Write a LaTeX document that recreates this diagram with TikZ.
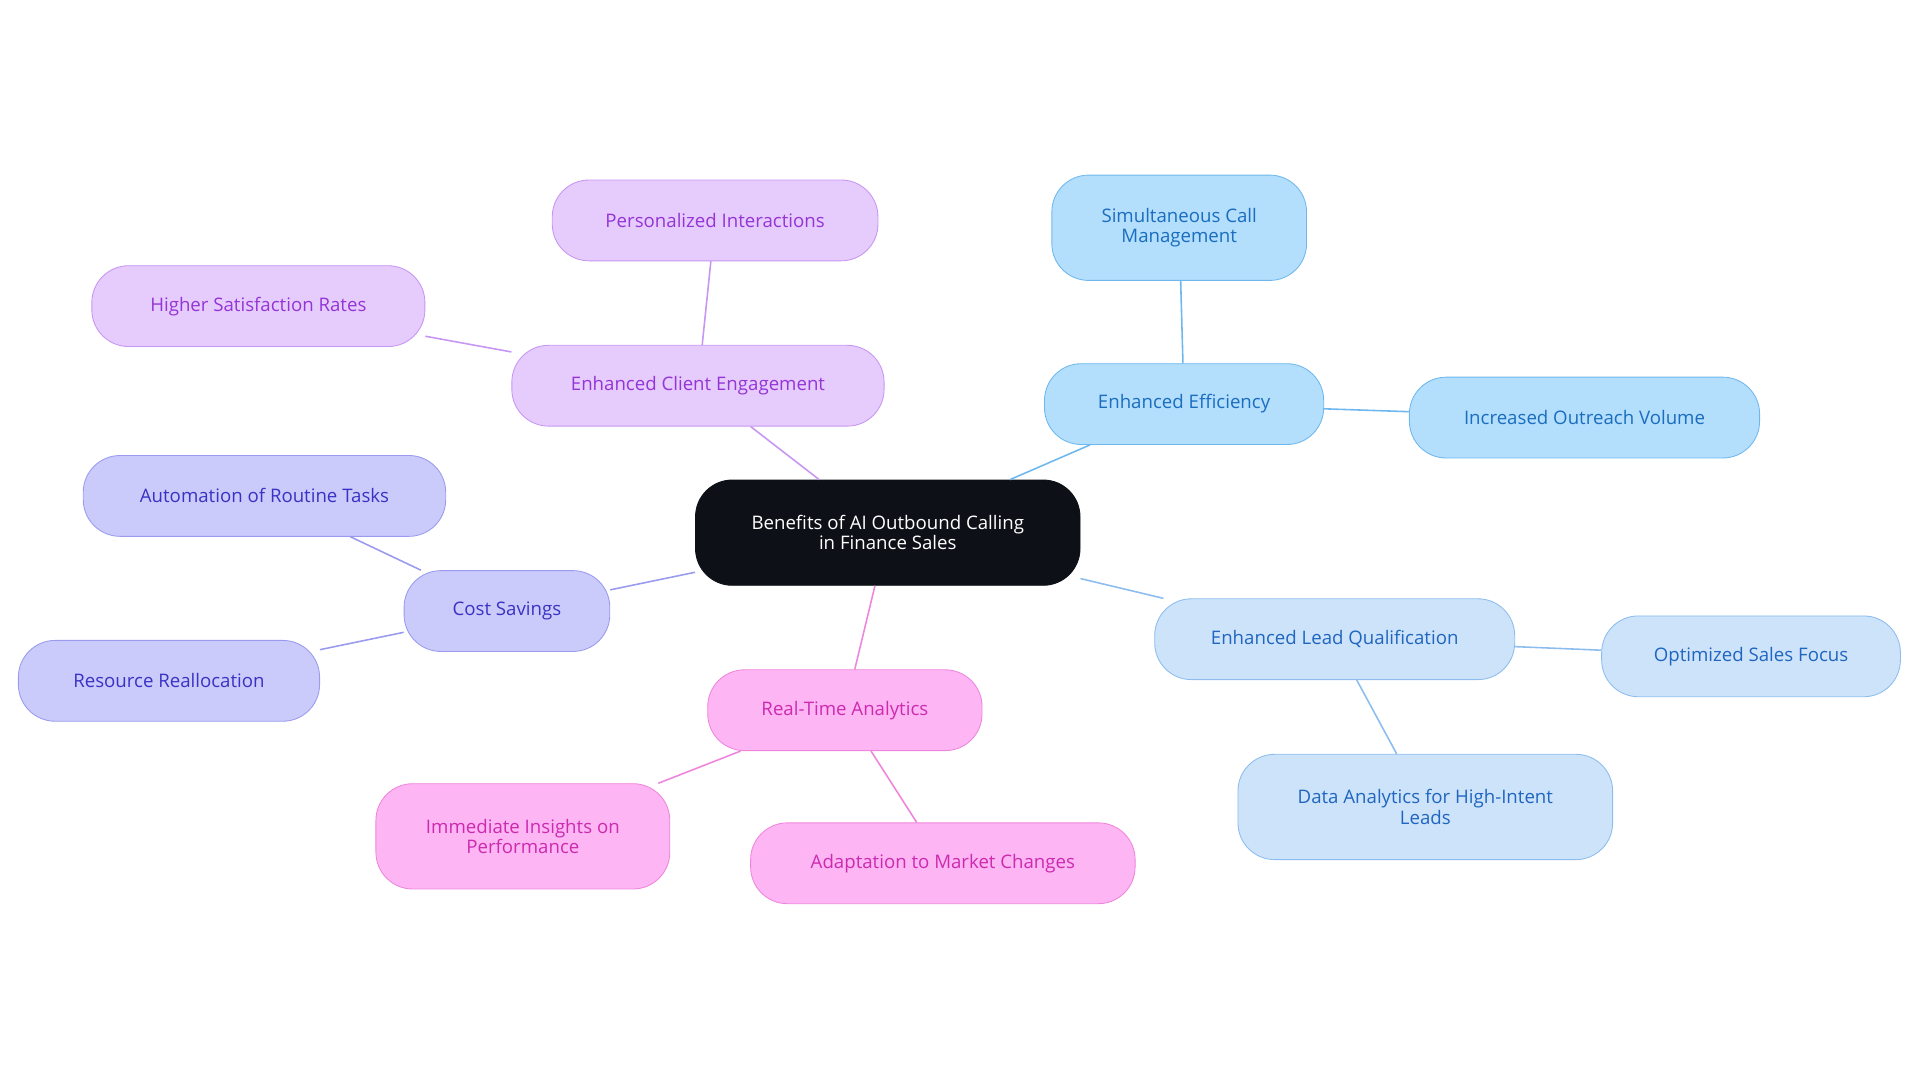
\documentclass[tikz,border=0pt]{standalone}
\usepackage{fontspec}
\setmainfont{Open Sans}
\usepackage{tikz}

\definecolor{rootfill}{HTML}{0D1117}
\definecolor{effFill}{HTML}{B3DEFC}
\definecolor{effLine}{HTML}{6FB8EE}
\definecolor{effText}{HTML}{1A6DBF}
\definecolor{leadFill}{HTML}{CDE3FA}
\definecolor{leadLine}{HTML}{8CBDEE}
\definecolor{leadText}{HTML}{2066C0}
\definecolor{rtFill}{HTML}{FDB5F3}
\definecolor{rtLine}{HTML}{EE86DD}
\definecolor{rtText}{HTML}{CC2BB0}
\definecolor{costFill}{HTML}{CACBFB}
\definecolor{costLine}{HTML}{9A9BEE}
\definecolor{costText}{HTML}{3A32C4}
\definecolor{clientFill}{HTML}{E6CBFD}
\definecolor{clientLine}{HTML}{C796F2}
\definecolor{clientText}{HTML}{9435D6}

\begin{document}
\begin{tikzpicture}[x=0.03cm, y=-0.03cm, line width=1.1pt,
    main/.style = {draw, rounded corners=0.9cm, minimum height=66*0.03cm, align=center,
                   font=\fontsize{13}{14}\selectfont, inner sep=2pt, line width=0.6pt},
    eff/.style = {main, fill=effFill, draw=effLine, text=effText},
    lead/.style = {main, fill=leadFill, draw=leadLine, text=leadText},
    rt/.style = {main, fill=rtFill, draw=rtLine, text=rtText},
    cost/.style = {main, fill=costFill, draw=costLine, text=costText},
    client/.style = {main, fill=clientFill, draw=clientLine, text=clientText}]
    \useasboundingbox (0,0) rectangle (1568,884);

    \node[main, fill=rootfill, draw=rootfill, text=white, minimum width=314*0.03cm, minimum height=86*0.03cm] (root) at (725,435) {Benefits of AI Outbound Calling\\in Finance Sales};

    \node[eff, minimum width=228*0.03cm] (eff) at (967,330) {Enhanced Efficiency};
    \node[eff, minimum width=208*0.03cm, minimum height=86*0.03cm] (sim) at (963,186) {Simultaneous Call\\Management};
    \node[eff, minimum width=286*0.03cm] (outreach) at (1294,341) {Increased Outreach Volume};

    \node[lead, minimum width=294*0.03cm] (lead) at (1090,522) {Enhanced Lead Qualification};
    \node[lead, minimum width=244*0.03cm] (focus) at (1430,536) {Optimized Sales Focus};
    \node[lead, minimum width=306*0.03cm, minimum height=86*0.03cm] (data) at (1164,659) {Data Analytics for High-Intent\\Leads};

    \node[rt, minimum width=224*0.03cm] (rt) at (690,580) {Real-Time Analytics};
    \node[rt, minimum width=240*0.03cm, minimum height=86*0.03cm] (insights) at (427,683) {Immediate Insights on\\Performance};
    \node[rt, minimum width=314*0.03cm] (adapt) at (770,705) {Adaptation to Market Changes};

    \node[cost, minimum width=168*0.03cm] (cost) at (414,499) {Cost Savings};
    \node[cost, minimum width=296*0.03cm] (auto) at (216,405) {Automation of Routine Tasks};
    \node[cost, minimum width=246*0.03cm] (realloc) at (138,556) {Resource Reallocation};

    \node[client, minimum width=304*0.03cm] (client) at (570,315) {Enhanced Client Engagement};
    \node[client, minimum width=266*0.03cm] (personal) at (584,180) {Personalized Interactions};
    \node[client, minimum width=272*0.03cm] (satis) at (211,250) {Higher Satisfaction Rates};

    % connectors
    \draw[effLine] (root) -- (eff);
    \draw[effLine] (eff) -- (sim);
    \draw[effLine] (eff) -- (outreach);
    \draw[leadLine] (root) -- (lead);
    \draw[leadLine] (lead) -- (focus);
    \draw[leadLine] (lead) -- (data);
    \draw[rtLine] (root) -- (rt);
    \draw[rtLine] (rt) -- (insights);
    \draw[rtLine] (rt) -- (adapt);
    \draw[costLine] (root) -- (cost);
    \draw[costLine] (cost) -- (auto);
    \draw[costLine] (cost) -- (realloc);
    \draw[clientLine] (root) -- (client);
    \draw[clientLine] (client) -- (personal);
    \draw[clientLine] (client) -- (satis);
\end{tikzpicture}
\end{document}
